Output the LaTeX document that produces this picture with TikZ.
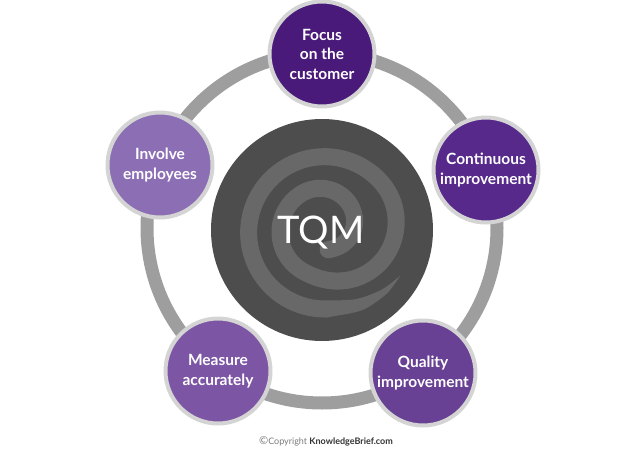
\documentclass[tikz,border=0pt]{standalone}
\usepackage{fontspec}
\setmainfont{Lato}
\definecolor{ringgray}{HTML}{9E9E9E}
\definecolor{satborder}{HTML}{D4D4D4}
\definecolor{coregray}{HTML}{4D4D4D}
\definecolor{spiralgray}{HTML}{686868}
\definecolor{pA}{HTML}{4A1A7A}
\definecolor{pB}{HTML}{56298A}
\definecolor{pC}{HTML}{684094}
\definecolor{pD}{HTML}{7D55A5}
\definecolor{pE}{HTML}{8C6EB4}
\definecolor{copygray}{HTML}{7A7A7A}
\definecolor{copydark}{HTML}{333333}
\begin{document}
\begin{tikzpicture}[x=1pt,y=-1pt,
  declare function={cl(\t)=min(max(\t,0),1);
    Sm(\t)=3*cl(\t)^2-2*cl(\t)^3;
    rr(\a)=75-30*Sm((\a-320)/160)-27*Sm((\a-600)/200)+2*(1-Sm((\a-88)/242));},
  sat/.style={circle, minimum size=105pt, inner sep=0pt, draw=satborder,
    line width=4pt, text=white, align=center,
    font=\bfseries\fontsize{15.5}{19.5}\selectfont},
  ringline/.style={draw=ringgray, line width=13pt},
  spiral/.style={spiralgray}]
\useasboundingbox (0,0) rectangle (640,452);
% ring
\coordinate (rc) at (322,228);
\draw[ringline] (rc) circle[radius=175];
% core circle
\node[circle, fill=coregray, minimum size=222pt, inner sep=0pt] (core) at (322,230) {};
% spiral
\begin{scope}[shift={(325,232)}]
  \draw[spiral, line width=17pt, line cap=round]
    plot[domain=88:800, samples=180, smooth] (\x:{rr(\x)});
  \fill[spiral] plot[smooth] coordinates {(30:87) (45:87.2) (65:86.5) (90:85.5)}
    -- plot[smooth] coordinates {(90:68.5) (65:74) (45:81) (30:87)} -- cycle;
\end{scope}
\node[anchor=base, text=white, font=\fontsize{38}{40}\selectfont] (tqm) at (321,243) {TQM};
% satellites
\node[sat, fill=pA] (focus) at (322,54) {Focus\\on the\\customer};
\node[sat, fill=pB] (cont) at (486,170) {Continuous\\improvement};
\node[sat, fill=pC] (qual) at (423,373) {Quality\\improvement};
\node[sat, fill=pD] (meas) at (218,371) {Measure\\accurately};
\node[sat, fill=pE] (inv) at (160,165) {Involve\\employees};
% copyright
\node[font=\fontsize{9}{10}\selectfont] (copy) at (326,441)
  {{\color{copygray}{\fontsize{11}{10}\selectfont ©}Copyright} {\color{copydark}\bfseries KnowledgeBrief.com}};
\end{tikzpicture}
\end{document}
